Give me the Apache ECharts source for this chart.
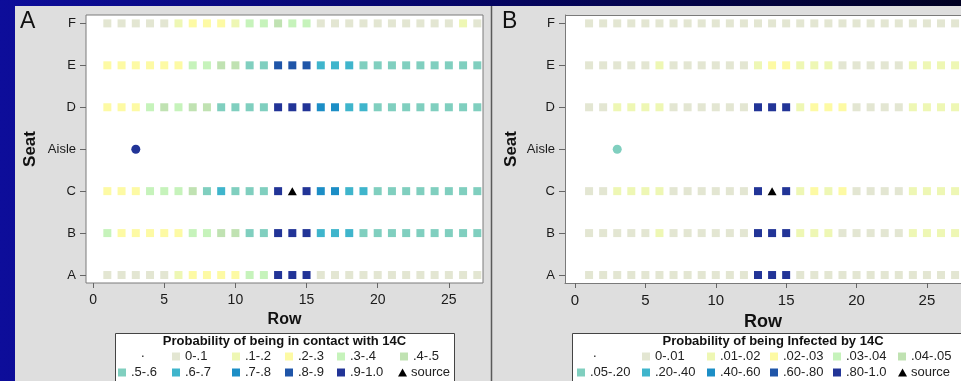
<!DOCTYPE html>
<html><head><meta charset="utf-8">
<script src="https://cdn.jsdelivr.net/npm/echarts@6/dist/echarts.min.js"></script>
<style>
html,body{margin:0;padding:0;width:961px;height:381px;overflow:hidden;background:linear-gradient(90deg,#0d0d9a 0%,#06066a 45%,#000022 100%);}
#c{width:961px;height:381px;}
</style></head><body><div id="c"></div>
<script>
// ---------- DATA ----------
const rowNumbers = [1,2,3,4,5,6,7,8,9,10,11,12,13,14,15,16,17,18,19,20,21,22,23,24,25,26,27];
const seatLabels = ['A','B','C','Aisle','D','E','F'];
const xTickValues = [0,5,10,15,20,25];
const yTickValues = [0,1,2,3,4,5,6];

// Panel A: bin index of probability of contact (0 = 0-.1 ... 9 = .9-1.0), null = source
const contactF = [0,0,0,0,0,1,2,2,2,1,3,3,4,3,3,0,0,0,0,0,0,0,0,0,0,1,0];
const contactE = [2,2,2,2,2,2,3,3,4,4,5,5,8,8,8,6,6,6,5,5,5,5,5,5,5,5,5];
const contactD = [2,2,2,3,4,3,4,4,5,5,5,5,9,9,9,7,7,6,6,5,5,5,5,5,5,5,5];
const contactC = [2,2,2,3,3,3,4,5,6,5,5,5,9,null,9,7,7,6,6,5,5,5,5,5,5,5,5];
const contactB = [3,2,2,2,2,2,3,3,4,4,5,5,9,9,9,6,6,6,5,5,5,5,5,5,5,5,5];
const contactA = [0,0,0,0,0,1,2,2,2,2,3,3,9,9,9,0,0,0,0,0,0,0,0,0,0,0,0];
const contactAisle = [[3, 9]]; // [row, bin]

// Panel B: bin index of probability of infection (0 = 0-.01 ... 9 = .80-1.0), null = source
const infectF = [0,0,0,0,0,0,0,0,0,0,0,0,0,0,0,0,0,0,0,0,0,0,0,0,0,0,0];
const infectE = [0,0,0,0,0,1,0,0,0,0,0,0,1,2,2,1,1,1,0,0,0,0,0,1,1,1,1];
const infectD = [0,0,1,1,1,1,0,0,0,0,0,0,9,9,9,1,2,2,2,0,0,0,0,1,1,1,1];
const infectC = [0,0,1,1,1,1,0,0,0,0,0,0,9,null,9,1,2,1,2,0,0,0,0,1,1,1,1];
const infectB = [0,0,0,0,0,1,0,0,0,0,0,0,9,9,9,1,1,1,0,0,0,0,0,1,1,1,1];
const infectA = [0,0,0,0,0,0,0,0,0,0,0,0,9,9,9,0,0,0,0,0,0,0,0,0,0,0,0];
const infectAisle = [[3, 5]];

const sourcePoint = [[14, 'C']];

const contactBins = ['0-.1','.1-.2','.2-.3','.3-.4','.4-.5','.5-.6','.6-.7','.7-.8','.8-.9','.9-1.0'];
const infectBins = ['0-.01','.01-.02','.02-.03','.03-.04','.04-.05','.05-.20','.20-.40','.40-.60','.60-.80','.80-1.0'];

// ---------- STYLE ----------
const binColors = ['#e3e6d2','#eef7b4','#fdfaa4','#c6f3bb','#c0e2b2','#80cfbf','#3fb5cc','#1c8ec6','#1f55a8','#223497'];
const FONT = 'Liberation Sans, Arial, sans-serif';

function seatIndex(s){ return seatLabels.indexOf(s); }
function buildSquares(seatArrays){
  const out = [];
  seatArrays.forEach(([seat, arr]) => {
    arr.forEach((lvl, i) => {
      if (lvl === null) return;
      out.push({ value: [rowNumbers[i], seatIndex(seat)], itemStyle: { color: binColors[lvl], opacity: 1 } });
    });
  });
  return out;
}
const squaresA = buildSquares([['F',contactF],['E',contactE],['D',contactD],['C',contactC],['B',contactB],['A',contactA]]);
const squaresB = buildSquares([['F',infectF],['E',infectE],['D',infectD],['C',infectC],['B',infectB],['A',infectA]]);
const aisleA = contactAisle.map(([r,l]) => ({ value: [r, seatIndex('Aisle')], itemStyle: { color: binColors[l], opacity: 1 } }));
const aisleB = infectAisle.map(([r,l]) => ({ value: [r, seatIndex('Aisle')], itemStyle: { color: binColors[l], opacity: 1 } }));
const sources = sourcePoint.map(([r,s]) => [r, seatIndex(s)]);

const AXIS_GREY = '#7a7a7a';
function xAxisCfg(idx, min, max, labelSize, nameSize, nameGap, showLine){
  return {
    type: 'value', gridIndex: idx, min: min, max: max,
    axisLine: { show: showLine, onZero: false, lineStyle: { color: AXIS_GREY, width: 1 } },
    splitLine: { show: false },
    axisTick: { show: true, inside: false, length: 5, customValues: xTickValues, lineStyle: { color: '#666' } },
    axisLabel: { customValues: xTickValues, margin: 10, fontSize: labelSize, color: '#1a1a1a', fontFamily: FONT },
    name: 'Row', nameLocation: 'middle', nameGap: nameGap,
    nameTextStyle: { fontSize: nameSize, fontWeight: 'bold', color: '#111', fontFamily: FONT }
  };
}
function yAxisCfg(idx, nameGap, showLine){
  return {
    type: 'value', gridIndex: idx, min: -0.19, max: 6.2,
    axisLine: { show: showLine, onZero: false, lineStyle: { color: AXIS_GREY, width: 1 } },
    splitLine: { show: false },
    axisTick: { show: true, inside: false, length: 6, customValues: yTickValues, lineStyle: { color: '#666' } },
    axisLabel: { customValues: yTickValues, margin: 10, fontSize: 13, color: '#1a1a1a', fontFamily: FONT,
      formatter: v => seatLabels[Math.round(v)] },
    name: 'Seat', nameLocation: 'middle', nameGap: nameGap, nameRotate: 90,
    nameTextStyle: { fontSize: 17, fontWeight: 'bold', color: '#111', fontFamily: FONT }
  };
}

// ---------- LEGEND (graphic) ----------
function legend(box, title, bins, row1Dot, row1Sq, row2Sq){
  const els = [];
  els.push({ type: 'rect', shape: { x: box.x, y: box.y, width: box.w, height: 60 },
    style: { fill: '#fff', stroke: '#444', lineWidth: 1 }, z: 10 });
  els.push({ type: 'text', x: box.cx, y: box.y + 8, z: 11,
    style: { text: title, font: 'bold 13px ' + FONT, fill: '#111', textAlign: 'center', textVerticalAlign: 'middle' } });
  const y1 = box.y + 23, y2 = box.y + 39;
  els.push({ type: 'text', x: row1Dot, y: y1 - 3, z: 11,
    style: { text: '.', font: '13px ' + FONT, fill: '#222', textAlign: 'left', textVerticalAlign: 'middle' } });
  row1Sq.forEach((sx, k) => {
    const b = k;
    els.push({ type: 'rect', shape: { x: sx, y: y1 - 4, width: 8, height: 8 }, style: { fill: binColors[b] }, z: 11 });
    els.push({ type: 'text', x: sx + 13, y: y1, z: 11,
      style: { text: bins[b], font: '13px ' + FONT, fill: '#222', textAlign: 'left', textVerticalAlign: 'middle' } });
  });
  row2Sq.forEach((sx, k) => {
    if (k < 5) {
      const b = k + 5;
      els.push({ type: 'rect', shape: { x: sx, y: y2 - 4, width: 8, height: 8 }, style: { fill: binColors[b] }, z: 11 });
      els.push({ type: 'text', x: sx + 13, y: y2, z: 11,
        style: { text: bins[b], font: '13px ' + FONT, fill: '#222', textAlign: 'left', textVerticalAlign: 'middle' } });
    } else {
      els.push({ type: 'polygon', shape: { points: [[sx, y2 + 4], [sx + 9, y2 + 4], [sx + 4.5, y2 - 4]] }, style: { fill: '#000' }, z: 11 });
      els.push({ type: 'text', x: sx + 13, y: y2, z: 11,
        style: { text: 'source', font: '13px ' + FONT, fill: '#222', textAlign: 'left', textVerticalAlign: 'middle' } });
    }
  });
  return els;
}

const graphics = [
  { type: 'rect', shape: { x: 15, y: 6, width: 477, height: 380 }, style: { fill: '#dedede' }, z: -10 },
  { type: 'rect', shape: { x: 492, y: 6, width: 470, height: 380 }, style: { fill: '#dedede' }, z: -10 },
  { type: 'line', shape: { x1: 491.5, y1: 6, x2: 491.5, y2: 381 }, style: { stroke: '#5a5a5a', lineWidth: 1.5 }, z: -9 },
  // top border of panel B plot (its right edge is cut off by the picture)
  { type: 'line', shape: { x1: 565, y1: 15.5, x2: 961, y2: 15.5 }, style: { stroke: AXIS_GREY, lineWidth: 1 }, z: 5 },
  { type: 'text', x: 20, y: 22, style: { text: 'A', font: '23px ' + FONT, fill: '#111', textVerticalAlign: 'middle' } },
  { type: 'text', x: 502, y: 22, style: { text: 'B', font: '23px ' + FONT, fill: '#111', textVerticalAlign: 'middle' } }
].concat(
  legend({ x: 115.5, y: 333.5, w: 339, cx: 284.5 }, 'Probability of being in contact with 14C', contactBins,
    141, [172, 232, 285, 337, 400], [118, 172, 232, 285, 337, 398]),
  legend({ x: 572.5, y: 333.5, w: 420, cx: 773 }, 'Probability of being Infected by 14C', infectBins,
    593, [642, 707, 770, 833, 898], [577, 642, 707, 770, 833, 898])
);

const chart = echarts.init(document.getElementById('c'), null, { renderer: 'canvas' });
chart.setOption({
  animation: false,
  backgroundColor: 'transparent',
  grid: [
    { left: 86, top: 15, width: 397, height: 268, show: true, backgroundColor: '#fff', borderColor: AXIS_GREY, borderWidth: 1 },
    { left: 565, top: 15, right: 0, height: 268, show: true, backgroundColor: '#fff', borderWidth: 0 }
  ],
  xAxis: [ xAxisCfg(0, -0.5, 27.4, 14, 16, 29, false), xAxisCfg(1, -0.71, 27.42, 15, 18, 27, true) ],
  yAxis: [ yAxisCfg(0, 47, false), yAxisCfg(1, 45, true) ],
  graphic: graphics,
  series: [
    { type: 'scatter', xAxisIndex: 0, yAxisIndex: 0, symbol: 'rect', symbolSize: 8, data: squaresA, silent: true },
    { type: 'scatter', xAxisIndex: 0, yAxisIndex: 0, symbol: 'circle', symbolSize: 9, data: aisleA, silent: true },
    { type: 'scatter', xAxisIndex: 0, yAxisIndex: 0, symbol: 'triangle', symbolSize: [9, 8], data: sources, itemStyle: { color: '#000', opacity: 1 }, silent: true },
    { type: 'scatter', xAxisIndex: 1, yAxisIndex: 1, symbol: 'rect', symbolSize: 8, data: squaresB, silent: true },
    { type: 'scatter', xAxisIndex: 1, yAxisIndex: 1, symbol: 'circle', symbolSize: 9, data: aisleB, silent: true },
    { type: 'scatter', xAxisIndex: 1, yAxisIndex: 1, symbol: 'triangle', symbolSize: [9, 8], data: sources, itemStyle: { color: '#000', opacity: 1 }, silent: true }
  ]
});
</script></body></html>
